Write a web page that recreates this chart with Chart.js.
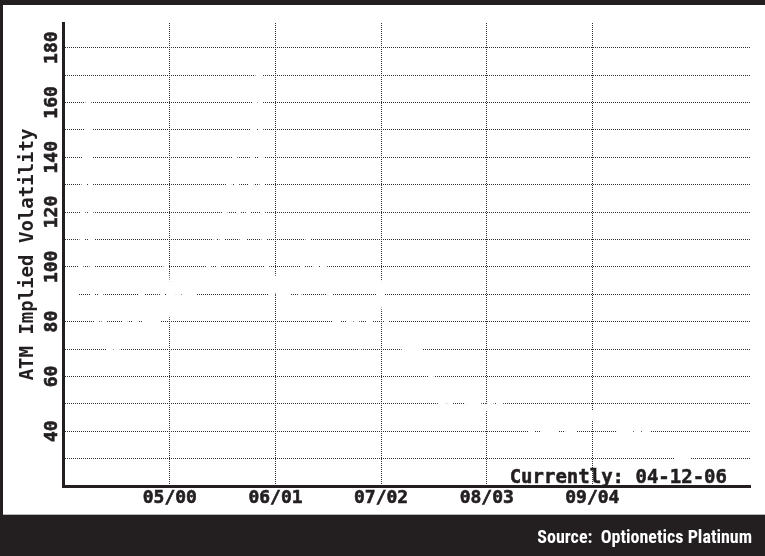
<!DOCTYPE html>
<html>
<head>
<meta charset="utf-8">
<script src="https://cdn.jsdelivr.net/npm/chart.js@4"></script>
<style>
html, body { margin: 0; padding: 0; background: #231f20; }
canvas { display: block; }
</style>
</head>
<body>
<canvas id="chart" width="765" height="556"></canvas>
<script>
// ATM implied volatility, one value per half month, starting April 1999
const vol1999 = [86, 91, 89, 90, 96, 135, 165, 88, 80, 90, 78, 70, 68, 70, 72, 80, 76, 78];
const vol2000 = [82, 90, 80, 78, 82, 80, 88, 100, 86, 92, 90, 88, 91, 89, 90, 93, 96, 98, 102, 108, 100, 112, 125, 133];
const vol2001 = [140, 118, 108, 116, 128, 165, 172, 112, 98, 90, 94, 88, 92, 90, 95, 98, 92, 104, 110, 103, 100, 97, 101, 93];
const vol2002 = [84, 78, 83, 85, 80, 82, 80, 72, 76, 80, 82, 88, 92, 82, 76, 74, 76, 74, 68, 72, 68, 72, 67, 66];
const vol2003 = [62, 56, 52, 49, 53, 50, 54, 52, 55, 51, 49, 51, 50, 47, 49, 50, 48, 50, 49, 46, 45, 44, 45, 43];
const vol2004 = [44, 40, 42, 43, 40, 40.5, 39.5, 40, 42, 42, 40, 39.5, 41, 43, 44, 43, 46, 44, 43, 45, 44, 42, 41, 40];
const vol2005 = [39.5, 40.5, 38, 40, 38, 40, 39, 37, 36, 35, 34, 33, 32, 30, 31, 30, 31, 33, 34, 35, 34, 36, 35, 36];
const vol2006 = [34, 35, 34, 35, 33, 34, 33];
const currentMonth = 84.4;   // 04-12-06, months after April 1999
const currentVol = 31;

// x ticks: months after April 1999
const xTickMonths = [13, 26, 39, 52, 65];
const xTickLabels = ["05/00", "06/01", "07/02", "08/03", "09/04"];
const yTickLabels = [40, 60, 80, 100, 120, 140, 160, 180];

const ink = "#231f20";
const monoBold = "'DejaVu Sans Mono', 'Liberation Mono', monospace";

const halfMonths = [].concat(vol1999, vol2000, vol2001, vol2002, vol2003, vol2004, vol2005, vol2006);
const points = halfMonths.map((v, i) => ({ x: i / 2, y: v }));
points.push({ x: currentMonth, y: currentVol });

const framePlugin = {
    id: "frame",
    beforeDraw(chart) {
        const ctx = chart.ctx;
        ctx.save();
        ctx.fillStyle = ink;
        ctx.fillRect(0, 0, chart.width, chart.height);
        ctx.fillStyle = "#ffffff";
        ctx.fillRect(3, 5, chart.width - 3, 510);
        ctx.fillStyle = "#b8b8b8";
        ctx.fillRect(3, 514, chart.width - 3, 1);
        ctx.restore();
    },
    afterDraw(chart) {
        const ctx = chart.ctx;
        const area = chart.chartArea;
        ctx.save();
        ctx.fillStyle = ink;
        ctx.strokeStyle = ink;
        ctx.lineWidth = 0.5;
        ctx.font = "bold 19px " + monoBold;
        ctx.textAlign = "right";
        ctx.textBaseline = "alphabetic";
        ctx.fillText("Currently: 04-12-06", area.right - 23, area.bottom - 3);
        ctx.strokeText("Currently: 04-12-06", area.right - 23, area.bottom - 3);

        // source line in the black band
        const src = "Source:  Optionetics Platinum";
        ctx.font = "bold 18px 'Liberation Sans Narrow', 'Roboto Condensed', Roboto, 'Liberation Sans', sans-serif";
        const w = ctx.measureText(src).width;
        ctx.translate(752, 543);
        ctx.scale(Math.min(1, 228 / w), 1);
        ctx.fillStyle = "#ffffff";
        ctx.fillText(src, 0, 0);
        ctx.restore();
    }
};

const data = {
    datasets: [
        {
            label: "ATM Implied Volatility",
            data: points,
            borderColor: "#ffffff",
            borderWidth: 5,
            pointRadius: 0,
            tension: 0
        }
    ]
};

const config = {
    type: "line",
    data: data,
    options: {
        responsive: false,
        animation: false,
        layout: { padding: { top: 23, right: 15, bottom: 41, left: 0 } },
        plugins: {
            legend: { display: false },
            tooltip: { enabled: false }
        },
        scales: {
            x: {
                type: "linear",
                min: -0.15,
                max: 84.4,
                afterBuildTicks: (scale) => {
                    scale.ticks = xTickMonths.map((m) => ({ value: m }));
                },
                afterFit: (scale) => { scale.height = 29; },
                ticks: {
                    padding: 2,
                    autoSkip: false,
                    maxRotation: 0,
                    color: ink,
                    textStrokeColor: ink,
                    textStrokeWidth: 0.6,
                    font: { family: monoBold, size: 18, weight: "bold" },
                    callback: (v) => {
                        const i = xTickMonths.indexOf(v);
                        return i >= 0 ? xTickLabels[i] : "";
                    }
                },
                grid: { color: "#333333", drawTicks: false },
                border: { color: ink, width: 3, dash: [1, 1], z: 1 }
            },
            y: {
                min: 20,
                max: 189,
                afterFit: (scale) => { scale.width = 63; },
                title: {
                    display: true,
                    text: "ATM Implied Volatility",
                    color: ink,
                    padding: { top: 17, bottom: 0 },
                    font: { family: monoBold, size: 19, weight: "bold", lineHeight: 1.2 }
                },
                ticks: {
                    stepSize: 10,
                    autoSkip: false,
                    includeBounds: false,
                    minRotation: 90,
                    maxRotation: 90,
                    crossAlign: "center",
                    padding: -6,
                    color: ink,
                    textStrokeColor: ink,
                    textStrokeWidth: 0.6,
                    font: { family: monoBold, size: 18, weight: "bold" },
                    callback: (v) => (yTickLabels.includes(v) ? String(v) : "")
                },
                grid: { color: "#333333", drawTicks: false },
                border: { color: ink, width: 3, dash: [1, 1], z: 1 }
            }
        }
    },
    plugins: [framePlugin]
};

const myChart = new Chart(document.getElementById("chart"), config);
</script>
</body>
</html>
